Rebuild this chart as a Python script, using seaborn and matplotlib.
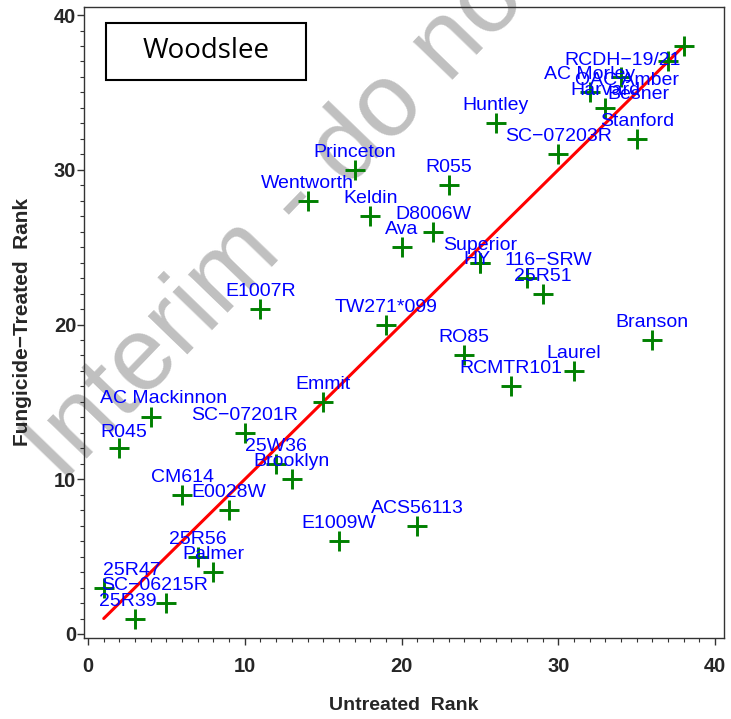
import matplotlib
matplotlib.use("Agg")
import matplotlib.pyplot as plt
from matplotlib.patches import Rectangle
from matplotlib.ticker import MultipleLocator
import seaborn as sns
import pandas as pd

# ---- data ----
untreated = [1, 2, 3, 4, 5, 6, 7, 8, 9, 10, 11, 12, 13, 14, 15, 16, 17, 18, 19, 20,
             21, 22, 23, 24, 25, 25, 26, 27, 28, 29, 30, 31, 32, 33, 34, 35, 36, 37, 38]
treated = [3, 12, 1, 14, 2, 9, 5, 4, 8, 13, 21, 11, 10, 28, 15, 6, 30, 27, 20, 25,
           7, 26, 29, 18, 24, 24, 33, 16, 23, 22, 31, 17, 35, 34, 36, 32, 19, 37, 38]
names = ["25R47", "R045", "25R39", "AC Mackinnon", "SC\u221206215R", "CM614", "25R56",
         "Palmer", "E0028W", "SC\u221207201R", "E1007R", "25W36", "Brooklyn", "Wentworth",
         "Emmit", "E1009W", "Princeton", "Keldin", "TW271*099", "Ava", "ACS56113",
         "D8006W", "R055", "RO85", "Superior", "HY", "Huntley", "RCMTR101",
         "116\u2212SRW", "25R51", "SC\u221207203R", "Laurel", "AC Morley", "Harvard",
         "OAC Amber", "Stanford", "Branson", "Besner", "RCDH\u221219/21"]
ref_x = [1, 38]
ref_y = [1, 38]
x_ticks = [0, 10, 20, 30, 40]
y_ticks = [0, 10, 20, 30, 40]
location = "Woodslee"
watermark = "Interim - do not cite"

# label placement tweaks (pixels: right, up of baseline); default is centred above
label_offsets = {
    "25R47": (28, 13), "R045": (4, 11), "25R39": (-7, 13), "AC Mackinnon": (13, 14),
    "SC\u221206215R": (-12, 13), "HY": (-3, -1), "116\u2212SRW": (21, 13),
    "OAC Amber": (6, -8), "Besner": (-30, -38), "RCDH\u221219/21": (-61, -19),
}

df = pd.DataFrame({"Untreated": untreated, "Treated": treated, "Name": names})
ref = pd.DataFrame({"x": ref_x, "y": ref_y})

sns.set_theme(style="white")
plt.rcParams["font.family"] = ["Liberation Sans", "DejaVu Sans"]

W, H = 731, 719
fig = plt.figure(figsize=(W / 100, H / 100), dpi=100)
L, R, T, B = 84, 724, 7, 638
ax = fig.add_axes([L / W, 1 - B / H, (R - L) / W, (B - T) / H])
ax.set_zorder(1)
ax.patch.set_visible(False)

# watermark behind everything
fig.text(62 / W, 1 - 484 / H, watermark, fontsize=75, color="#c0c0c0",
         rotation=46, rotation_mode="anchor", ha="left", va="baseline", zorder=0)

sns.lineplot(data=ref, x="x", y="y", color="red", linewidth=2.2, ax=ax, zorder=2)
sns.scatterplot(data=df, x="Untreated", y="Treated", marker="+", s=190,
                color="green", linewidth=2.1, ax=ax, zorder=3)

for n, xv, yv in zip(names, untreated, treated):
    dx, dy = label_offsets.get(n, (0, 13))
    ax.annotate(n, (xv, yv), xytext=(dx, dy), textcoords="offset pixels",
                ha="center", va="baseline", fontsize=14, color="blue", zorder=4)

ax.set_xlim(-0.26, 40.57)
ax.set_ylim(-0.26, 40.52)
ax.set_xticks(x_ticks)
ax.set_yticks(y_ticks)
ax.xaxis.set_minor_locator(MultipleLocator(1))
ax.yaxis.set_minor_locator(MultipleLocator(1))
ax.tick_params(which="major", direction="out", length=5, width=1, color="#333333",
               labelsize=14.5, bottom=True, left=True)
ax.tick_params(axis="x", which="major", pad=9)
ax.tick_params(axis="y", which="major", pad=0.5)
ax.tick_params(which="minor", direction="out", length=3, width=0.8, color="#333333",
               bottom=True, left=True)
for lab in ax.get_xticklabels() + ax.get_yticklabels():
    lab.set_fontweight("bold")
for sp in ax.spines.values():
    sp.set_color("#333333")
    sp.set_linewidth(1)
    sp.set_visible(True)

ax.set_xlabel("Untreated  Rank", fontsize=14, fontweight="bold", labelpad=15)
ax.set_ylabel("Fungicide\u2212Treated  Rank", fontsize=15, fontweight="bold", labelpad=16)

# location box
bx0, bx1, by0, by1 = 106, 306, 23, 80
ax.add_patch(Rectangle(((bx0 - L) / (R - L), (B - by1) / (B - T)),
                       (bx1 - bx0) / (R - L), (by1 - by0) / (B - T),
                       transform=ax.transAxes, fill=False, edgecolor="black",
                       linewidth=1.5, zorder=5))
ax.text(((bx0 + bx1) / 2 - L) / (R - L), (B - (by0 + by1) / 2) / (B - T), location,
        transform=ax.transAxes, ha="center", va="center", fontsize=20,
        fontfamily=["Open Sans", "DejaVu Sans"], color="black", zorder=5)

fig.savefig("out.png", dpi=100)
